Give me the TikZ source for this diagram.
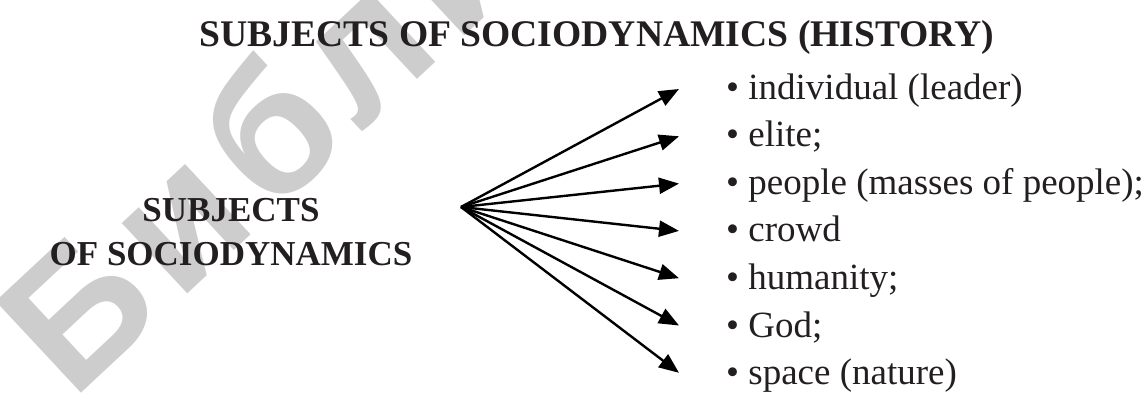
\documentclass[tikz,border=0pt]{standalone}
\usepackage{fontspec}
\setmainfont{Liberation Serif}
\newfontfamily\wmfont[LetterSpace=8]{Liberation Sans}
\usetikzlibrary{arrows.meta}
\definecolor{ink}{HTML}{231F20}
\definecolor{wmgray}{HTML}{CDCDCD}
\begin{document}
\begin{tikzpicture}[x=1pt,y=-1pt,
  titletext/.style={text=ink, inner sep=0, font=\bfseries\fontsize{37.6}{40}\selectfont},
  labeltext/.style={text=ink, inner sep=0, align=center, font=\bfseries\fontsize{35}{40}\selectfont},
  itemtext/.style={text=ink, inner sep=0, anchor=base west, font=\fontsize{37}{40}\selectfont},
  fanarrow/.style={draw=black, line width=2.4pt, -{Triangle[length=20pt,width=16pt]}},
  watermark/.style={text=wmgray, inner sep=0, anchor=base west, rotate=43, font=\wmfont\bfseries\fontsize{182}{182}\selectfont}]
\useasboundingbox (0,0) rectangle (1147,396);
% watermark
\node[watermark] (wm) at (72,402) {Библиотека};
% title
\node[titletext, anchor=base] (title) at (597,46) {SUBJECTS OF SOCIODYNAMICS (HISTORY)};
% left label
\node[labeltext, anchor=base] (lab1) at (231,221) {SUBJECTS};
\node[labeltext, anchor=base] (lab2) at (231,265) {OF SOCIODYNAMICS};
% apex
\coordinate (apex) at (461,207);
% tips
\foreach \i in {0,...,6} {
  \coordinate (t\i) at (679,{89+47.3*\i});
}
% items
\node[itemtext] (i0) at (726,{99+47.6*0}) {\textbullet\ individual (leader)};
\node[itemtext] (i1) at (726,{99+47.6*1}) {\textbullet\ elite;};
\node[itemtext] (i2) at (726,{99+47.6*2}) {\textbullet\ people (masses of people);};
\node[itemtext] (i3) at (726,{99+47.6*3}) {\textbullet\ crowd};
\node[itemtext] (i4) at (726,{99+47.6*4}) {\textbullet\ humanity;};
\node[itemtext] (i5) at (726,{99+47.6*5}) {\textbullet\ God;};
\node[itemtext] (i6) at (726,{99+47.6*6}) {\textbullet\ space (nature)};
% arrows
\foreach \i in {0,...,6} {
  \draw[fanarrow] (apex) -- (t\i);
}
\end{tikzpicture}
\end{document}
